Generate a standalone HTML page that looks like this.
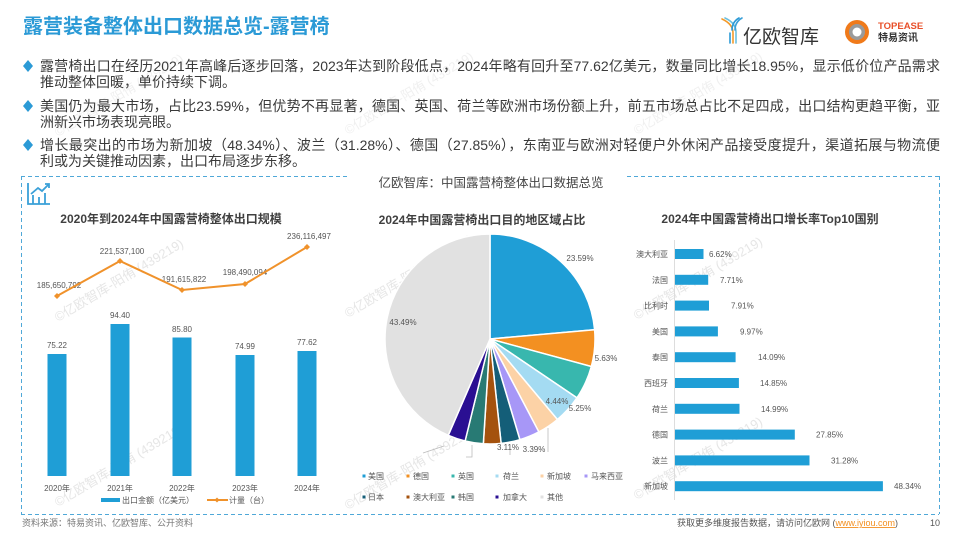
<!DOCTYPE html>
<html><head><meta charset="utf-8">
<style>
html,body{margin:0;padding:0;background:#fff;}
body{width:960px;height:540px;position:relative;overflow:hidden;font-family:"Liberation Sans","Noto Sans CJK SC",sans-serif;}
.t{position:absolute;left:40px;width:900px;font-size:14px;line-height:16px;color:#3a3a3a;text-align:justify;}
.j{text-align-last:justify;}
.title{position:absolute;left:23px;top:13px;font-size:20px;line-height:28px;font-weight:bold;color:#2b9ad6;white-space:nowrap;}
svg{position:absolute;left:0;top:0;}
svg text{font-family:"Liberation Sans","Noto Sans CJK SC",sans-serif;}
</style></head>
<body>
<svg width="960" height="540" viewBox="0 0 960 540">
  <!-- watermarks -->
  <g fill="#e6e6e6" font-size="13">
    <text transform="translate(58,322) rotate(-31)">©亿欧智库-阳侑 (439219)</text>
    <text transform="translate(58,507) rotate(-31)">©亿欧智库-阳侑 (439219)</text>
    <text transform="translate(348,318) rotate(-31)">©亿欧智库-阳侑 (439219)</text>
    <text transform="translate(348,510) rotate(-31)">©亿欧智库-阳侑 (439219)</text>
    <text transform="translate(637,320) rotate(-31)">©亿欧智库-阳侑 (439219)</text>
    <text transform="translate(637,500) rotate(-31)">©亿欧智库-阳侑 (439219)</text>
  </g>
  <g fill="#f0f0f0" font-size="13">
    <text transform="translate(58,137) rotate(-31)">©亿欧智库-阳侑 (439219)</text>
    <text transform="translate(348,135) rotate(-31)">©亿欧智库-阳侑 (439219)</text>
    <text transform="translate(637,135) rotate(-31)">©亿欧智库-阳侑 (439219)</text>
  </g>
</svg>
<div class="title">露营装备整体出口数据总览-露营椅</div>
<div class="t j" style="top:58px">露营椅出口在经历2021年高峰后逐步回落，2023年达到阶段低点，2024年略有回升至77.62亿美元，数量同比增长18.95%，显示低价位产品需求</div>
<div class="t" style="top:74px">推动整体回暖，单价持续下调。</div>
<div class="t j" style="top:98px">美国仍为最大市场，占比23.59%，但优势不再显著，德国、英国、荷兰等欧洲市场份额上升，前五市场总占比不足四成，出口结构更趋平衡，亚</div>
<div class="t" style="top:114px">洲新兴市场表现亮眼。</div>
<div class="t j" style="top:137px">增长最突出的市场为新加坡（48.34%）、波兰（31.28%）、德国（27.85%），东南亚与欧洲对轻便户外休闲产品接受度提升，渠道拓展与物流便</div>
<div class="t" style="top:153px">利或为关键推动因素，出口布局逐步东移。</div>

<svg width="960" height="540" viewBox="0 0 960 540">
  <!-- bullets -->
  <g fill="#2b9ad6">
    <polygon points="28,60 33,66 28,72 23,66"/>
    <polygon points="28,100 33,106 28,112 23,106"/>
    <polygon points="28,139 33,145 28,151 23,145"/>
  </g>

  <!-- logos -->
  <g fill="none" stroke-width="1.6" stroke-linecap="round">
    <path d="M722,19 Q733,24 733,33 L733,43" stroke="#f39a2a"/>
    <path d="M725,18 Q736,23 736,32 L736,43" stroke="#6cc0e0"/>
    <path d="M742,18 Q735,22 735,30" stroke="#3aa0d8"/>
    <path d="M739,18 Q732,22 732,30" stroke="#2b9ad6"/>
    <path d="M730,43 L730,33" stroke="#2b9ad6"/>
  </g>
  <text x="743" y="43" font-size="19" fill="#333">亿欧智库</text>
  <circle cx="857" cy="32" r="12" fill="#f07a1a"/>
  <circle cx="857" cy="32" r="8" fill="#9a9a9a"/>
  <circle cx="857" cy="32" r="4.5" fill="#fff"/>
  <text x="878" y="29" font-size="9.5" font-weight="bold" fill="#e8502a">TOPEASE</text>
  <text x="878" y="41" font-size="10" font-weight="bold" fill="#333">特易资讯</text>

  <!-- frame -->
  <g stroke="#4fa8d8" stroke-width="1" stroke-dasharray="4,3" fill="none">
    <path d="M21,176.5 L350,176.5"/>
    <path d="M627,176.5 L939,176.5"/>
    <path d="M21.5,176 L21.5,514"/>
    <path d="M939.5,176 L939.5,514"/>
    <path d="M21,514.5 L939,514.5"/>
  </g>
  <text x="491" y="187" font-size="12.5" fill="#444" text-anchor="middle">亿欧智库：中国露营椅整体出口数据总览</text>

  <!-- icon -->
  <g stroke="#3aa0d8" stroke-width="1.8" fill="none">
    <path d="M28,183 L28,204 L50,204"/>
    <path d="M33,204 L33,195 M39,204 L39,197 M45,204 L45,193"/>
    <path d="M31,194 L38,188 L42,191 L49,184"/>
    <path d="M45,184 L49,184 L49,188"/>
  </g>

  <!-- left chart -->
  <text x="171" y="223" font-size="12" font-weight="bold" fill="#404040" text-anchor="middle">2020年到2024年中国露营椅整体出口规模</text>
  <g fill="#1f9ed6">
    <rect x="47.5" y="354" width="19" height="122"/>
    <rect x="110.5" y="324" width="19" height="152"/>
    <rect x="172.5" y="337.5" width="19" height="138.5"/>
    <rect x="235.5" y="355" width="19" height="121"/>
    <rect x="297.5" y="351" width="19" height="125"/>
  </g>
  <g font-size="8" fill="#555" text-anchor="middle">
    <text x="57" y="348">75.22</text>
    <text x="120" y="318">94.40</text>
    <text x="182" y="332">85.80</text>
    <text x="245" y="349">74.99</text>
    <text x="307" y="345">77.62</text>
    <text x="59" y="288">185,650,792</text>
    <text x="122" y="254">221,537,100</text>
    <text x="184" y="282">191,615,822</text>
    <text x="245" y="275">198,490,094</text>
    <text x="309" y="239">236,116,497</text>
    <text x="57" y="491">2020年</text>
    <text x="120" y="491">2021年</text>
    <text x="182" y="491">2022年</text>
    <text x="245" y="491">2023年</text>
    <text x="307" y="491">2024年</text>
  </g>
  <polyline points="57,296 120,261 182,290 245,284 307,247" fill="none" stroke="#f0922b" stroke-width="2"/>
  <g fill="#f0922b">
    <polygon points="57,293 60,296 57,299 54,296"/>
    <polygon points="120,258 123,261 120,264 117,261"/>
    <polygon points="182,287 185,290 182,293 179,290"/>
    <polygon points="245,281 248,284 245,287 242,284"/>
    <polygon points="307,244 310,247 307,250 304,247"/>
  </g>
  <rect x="101" y="498" width="19" height="4" fill="#1f9ed6"/>
  <text x="122" y="503" font-size="8" fill="#555">出口金额（亿美元）</text>
  <line x1="207" y1="500" x2="228" y2="500" stroke="#f0922b" stroke-width="2"/>
  <polygon points="217,497.5 219.5,500 217,502.5 214.5,500" fill="#f0922b"/>
  <text x="229" y="503" font-size="8" fill="#555">计量（台）</text>

  <!-- pie -->
  <text x="482" y="224" font-size="12" font-weight="bold" fill="#404040" text-anchor="middle">2024年中国露营椅出口目的地区域占比</text>
  <g stroke="#fff" stroke-width="1.5">
    <path d="M490,339 L490,234 A105,105 0 0 1 594.59,329.70 Z" fill="#1f9ed6"/>
    <path d="M490,339 L594.59,329.70 A105,105 0 0 1 591.33,366.51 Z" fill="#f39021"/>
    <path d="M490,339 L591.33,366.51 A105,105 0 0 1 576.96,397.85 Z" fill="#38b7ae"/>
    <path d="M490,339 L576.96,397.85 A105,105 0 0 1 557.39,419.52 Z" fill="#a4dbf2"/>
    <path d="M490,339 L557.39,419.52 A105,105 0 0 1 538.84,431.95 Z" fill="#fcd2a6"/>
    <path d="M490,339 L538.84,431.95 A105,105 0 0 1 519.86,439.67 Z" fill="#a797f7"/>
    <path d="M490,339 L519.86,439.67 A105,105 0 0 1 501.12,443.41 Z" fill="#145e78"/>
    <path d="M490,339 L501.12,443.41 A105,105 0 0 1 483.33,443.79 Z" fill="#a4520e"/>
    <path d="M490,339 L483.33,443.79 A105,105 0 0 1 465.10,441.00 Z" fill="#287a74"/>
    <path d="M490,339 L465.10,441.00 A105,105 0 0 1 448.23,435.34 Z" fill="#2a0f92"/>
    <path d="M490,339 L448.23,435.34 A105,105 0 0 1 490,234 Z" fill="#e1e1e1"/>
  </g>
  <g stroke="#bbb" stroke-width="0.8" fill="none">
    <path d="M548,428 L548,452"/>
    <path d="M510,445 L510,455"/>
    <path d="M472,445 L472,457 L466,457"/>
    <path d="M423,453 L444,446"/>
  </g>
  <g font-size="8" fill="#555" text-anchor="middle">
    <text x="580" y="261">23.59%</text>
    <text x="403" y="325">43.49%</text>
    <text x="606" y="361">5.63%</text>
    <text x="580" y="411">5.25%</text>
    <text x="557" y="404">4.44%</text>
    <text x="534" y="452">3.39%</text>
    <text x="508" y="450">3.11%</text>
  </g>
  <g font-size="8" fill="#555">
    <rect x="362.5" y="474.5" width="3" height="3" fill="#1f9ed6"/><text x="368" y="479">美国</text>
    <rect x="406.5" y="474.5" width="3" height="3" fill="#f39021"/><text x="413" y="479">德国</text>
    <rect x="451.5" y="474.5" width="3" height="3" fill="#38b7ae"/><text x="458" y="479">英国</text>
    <rect x="495.5" y="474.5" width="3" height="3" fill="#a4dbf2"/><text x="503" y="479">荷兰</text>
    <rect x="540.5" y="474.5" width="3" height="3" fill="#fcd2a6"/><text x="547" y="479">新加坡</text>
    <rect x="584.5" y="474.5" width="3" height="3" fill="#a797f7"/><text x="591" y="479">马来西亚</text>
    <rect x="362.5" y="495.5" width="3" height="3" fill="#145e78"/><text x="368" y="500">日本</text>
    <rect x="406.5" y="495.5" width="3" height="3" fill="#a4520e"/><text x="413" y="500">澳大利亚</text>
    <rect x="451.5" y="495.5" width="3" height="3" fill="#287a74"/><text x="458" y="500">韩国</text>
    <rect x="495.5" y="495.5" width="3" height="3" fill="#2a0f92"/><text x="503" y="500">加拿大</text>
    <rect x="540.5" y="495.5" width="3" height="3" fill="#e1e1e1"/><text x="547" y="500">其他</text>
  </g>

  <!-- right chart -->
  <text x="770" y="223" font-size="12" font-weight="bold" fill="#404040" text-anchor="middle">2024年中国露营椅出口增长率Top10国别</text>
  <line x1="674.5" y1="240" x2="674.5" y2="500" stroke="#ddd" stroke-width="1"/>
  <g fill="#1f9ed6">
    <rect x="675" y="249" width="28.5" height="10"/>
    <rect x="675" y="274.8" width="33.2" height="10"/>
    <rect x="675" y="300.6" width="34.0" height="10"/>
    <rect x="675" y="326.4" width="42.9" height="10"/>
    <rect x="675" y="352.2" width="60.6" height="10"/>
    <rect x="675" y="378" width="63.9" height="10"/>
    <rect x="675" y="403.8" width="64.5" height="10"/>
    <rect x="675" y="429.6" width="119.8" height="10"/>
    <rect x="675" y="455.4" width="134.5" height="10"/>
    <rect x="675" y="481.2" width="207.9" height="10"/>
  </g>
  <g font-size="8" fill="#555" text-anchor="end">
    <text x="668" y="257">澳大利亚</text>
    <text x="668" y="282.8">法国</text>
    <text x="668" y="308.6">比利时</text>
    <text x="668" y="334.4">美国</text>
    <text x="668" y="360.2">泰国</text>
    <text x="668" y="386">西班牙</text>
    <text x="668" y="411.8">荷兰</text>
    <text x="668" y="437.6">德国</text>
    <text x="668" y="463.4">波兰</text>
    <text x="668" y="489.2">新加坡</text>
  </g>
  <g font-size="8" fill="#555">
    <text x="709" y="257">6.62%</text>
    <text x="720" y="282.8">7.71%</text>
    <text x="731" y="308.6">7.91%</text>
    <text x="740" y="334.4">9.97%</text>
    <text x="758" y="360.2">14.09%</text>
    <text x="760" y="386">14.85%</text>
    <text x="761" y="411.8">14.99%</text>
    <text x="816" y="437.6">27.85%</text>
    <text x="831" y="463.4">31.28%</text>
    <text x="894" y="489.2">48.34%</text>
  </g>

  <!-- footer -->
  <text x="22" y="526" font-size="9" fill="#777">资料来源：特易资讯、亿欧智库、公开资料</text>
  <text x="677" y="526" font-size="9" fill="#555">获取更多维度报告数据，请访问亿欧网 (<tspan fill="#f39021" text-decoration="underline">www.iyiou.com</tspan>)</text>
  <text x="930" y="526" font-size="9" fill="#555">10</text>
</svg>
</body></html>
